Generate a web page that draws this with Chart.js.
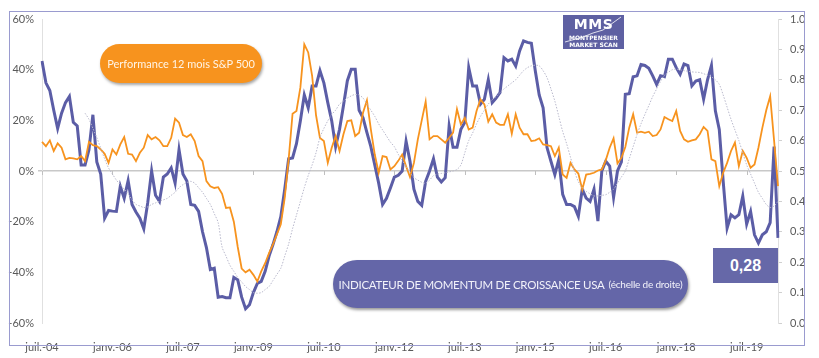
<!DOCTYPE html>
<html>
<head>
<meta charset="utf-8">
<script src="https://cdn.jsdelivr.net/npm/chart.js@4.4.1/dist/chart.umd.min.js"></script>
<style>
  html,body{margin:0;padding:0;background:#fff;}
  #wrap{position:relative;width:819px;height:358px;overflow:hidden;}
  #frame{position:absolute;left:9px;top:11px;width:796px;height:335px;border:1.5px solid #9a9bcf;box-sizing:border-box;pointer-events:none;}
  canvas{position:absolute;left:0;top:0;}
  .pill{position:absolute;display:flex;align-items:center;justify-content:center;color:#fff;font-family:Lato,"Open Sans",sans-serif;white-space:nowrap;}
  #pillO{left:100px;top:44px;width:162px;height:39px;border-radius:20px;background:#f7931e;font-size:11px;box-shadow:1px 2px 3px rgba(0,0,0,0.35);color:#fff4e6;}
  #pillB{left:333px;top:260px;width:355px;height:48px;border-radius:24px;background:#6466a8;font-size:11.5px;box-shadow:1px 2px 3px rgba(0,0,0,0.4);color:#f2f2fa;letter-spacing:-0.3px;}
  #pillB small{font-size:10px;margin-left:4px;letter-spacing:-0.2px;}
  #logo{position:absolute;left:563px;top:15px;width:61px;height:34px;background:#5e60a2;color:#fff;font-family:"DejaVu Sans",sans-serif;text-align:center;}
  #logo .big{position:absolute;left:0;right:0;top:1px;font-size:14px;font-weight:bold;letter-spacing:0.5px;}
  #logo .s1{position:absolute;left:0;right:0;top:19px;font-size:6px;font-weight:bold;}
  #logo .s2{position:absolute;left:0;right:0;top:26px;font-size:6px;font-weight:bold;}
  #logo svg{position:absolute;left:0;top:0;}
  #val{position:absolute;left:713px;top:248px;width:65px;height:35px;background:#6668a8;color:#fff;font-family:"Liberation Sans",Arial,sans-serif;font-weight:bold;font-size:16px;display:flex;align-items:center;justify-content:center;}
</style>
</head>
<body>
<div id="wrap">
  <canvas id="c" width="819" height="358"></canvas>
  <div id="frame"></div>
  <div class="pill" id="pillO">Performance 12 mois S&amp;P 500</div>
  <div class="pill" id="pillB">INDICATEUR DE MOMENTUM DE CROISSANCE USA<small>(échelle de droite)</small></div>
  <div id="logo">
    <svg width="61" height="34"><polyline points="2,27 20,22 30,18 40,15 58,2" fill="none" stroke="#ffffff" stroke-width="0.8"/></svg>
    <div class="big">MMS</div>
    <div class="s1">MONTPENSIER</div>
    <div class="s2">MARKET SCAN</div>
  </div>
  <div id="val">0,28</div>
</div>
<script>
// ---- DATA ----
const MONTHS = ["janv.","févr.","mars","avr.","mai","juin","juil.","août","sept.","oct.","nov.","déc."];
const START_YEAR = 2004, START_MONTH = 6; // juil.-04

// Performance 12 mois S&P 500 (%), left axis
const sp500 = [
 11.5, 9.8, 12.1, 7.9, 10.9, 9.2, 4.6, 5.2, 5.0, 4.6, 5.9, 3.9,
 11.5, 10.2, 9.8, 8.5, 6.8, 3.2, 8.5, 6.5, 10.5, 13.4, 6.8, 6.5,
 3.9, 7.2, 9.2, 14.2, 12.5, 13.4, 12.1, 9.8, 9.8, 13.1, 20.7, 19.1,
 14.2, 13.4, 14.5, 11.8, 5.9, 3.9, -4.0, -6.0, -6.7, -6.4, -9.0, -14.6,
 -14.4, -20.0, -30.0, -38.5, -40.0, -39.0, -41.0, -43.6, -39.6, -36.4, -32.4, -29.0,
 -25.0, -21.0, -10.6, 4.6, 22.6, 23.7, 33.0, 50.0, 46.8, 37.6, 22.0, 13.0,
 11.8, 3.2, 9.2, 13.8, 7.9, 14.5, 19.7, 20.0, 13.8, 15.1, 23.0, 27.9,
 16.4, 6.5, -0.7, 5.9, 5.5, 0.6, 1.9, 4.0, 6.5, 1.9, -2.4, 3.2,
 12.5, 20.0, 27.4, 12.5, 13.8, 13.8, 12.5, 11.2, 13.1, 15.1, 24.4, 18.4,
 21.0, 16.4, 17.1, 23.7, 28.3, 26.3, 19.5, 22.4, 19.1, 18.2, 18.2, 22.4,
 14.7, 22.4, 17.1, 14.5, 14.5, 11.8, 12.1, 12.9, 10.5, 10.2, 9.8, 5.9,
 9.2, -1.4, -2.7, 3.2, 0.6, -1.0, -7.3, -1.4, -1.1, -0.7, 0.2, 0.6,
 4.2, 9.2, 12.9, 3.0, 5.2, 9.5, 17.1, 22.4, 15.1, 15.5, 15.1, 15.5,
 13.8, 14.2, 16.4, 21.3, 20.4, 19.7, 23.7, 15.8, 12.5, 11.5, 12.1, 12.5,
 14.5, 17.4, 15.8, 4.6, 3.9, -6.0, -0.7, 3.2, 7.9, 11.2, 1.9, 7.9,
 5.2, 1.3, 2.6, 9.2, 17.0, 24.0, 29.5, 12.0, -6.0
];

// Indicateur de momentum de croissance USA (right axis, 0..1)
const momentum = [
 0.862, 0.79, 0.765, 0.70, 0.64, 0.69, 0.725, 0.745, 0.66, 0.648, 0.52, 0.52,
 0.57, 0.685, 0.53, 0.49, 0.345, 0.37, 0.368, 0.367, 0.45, 0.41, 0.468, 0.39,
 0.365, 0.345, 0.31, 0.395, 0.50, 0.42, 0.40, 0.48, 0.49, 0.51, 0.46, 0.57,
 0.49, 0.467, 0.39, 0.387, 0.367, 0.30, 0.248, 0.176, 0.18, 0.085, 0.087, 0.083,
 0.083, 0.15, 0.142, 0.085, 0.047, 0.06, 0.10, 0.13, 0.137, 0.17, 0.22, 0.258,
 0.30, 0.35, 0.44, 0.54, 0.543, 0.59, 0.665, 0.75, 0.708, 0.78, 0.78, 0.83,
 0.79, 0.725, 0.665, 0.58, 0.637, 0.715, 0.797, 0.835, 0.835, 0.70, 0.675, 0.626,
 0.58, 0.52, 0.46, 0.39, 0.41, 0.444, 0.48, 0.486, 0.50, 0.598, 0.532, 0.44,
 0.40, 0.387, 0.466, 0.50, 0.54, 0.48, 0.464, 0.478, 0.648, 0.578, 0.578, 0.637,
 0.66, 0.84, 0.78, 0.78, 0.72, 0.736, 0.80, 0.725, 0.74, 0.758, 0.873, 0.862,
 0.868, 0.845, 0.895, 0.928, 0.923, 0.92, 0.83, 0.75, 0.708, 0.577, 0.532, 0.488,
 0.538, 0.423, 0.39, 0.39, 0.383, 0.351, 0.44, 0.411, 0.40, 0.44, 0.335, 0.50,
 0.532, 0.516, 0.413, 0.50, 0.53, 0.752, 0.754, 0.81, 0.813, 0.85, 0.847, 0.838,
 0.813, 0.785, 0.813, 0.81, 0.868, 0.868, 0.84, 0.818, 0.852, 0.847, 0.78, 0.796,
 0.80, 0.736, 0.80, 0.847, 0.698, 0.637, 0.466, 0.312, 0.356, 0.346, 0.356, 0.417,
 0.325, 0.367, 0.29, 0.263, 0.29, 0.30, 0.33, 0.58, 0.28
];

// Smoothed momentum (grey dotted, right axis)
const smoothed = [
 null, null, null, null, null, null, null, null, null, null, null, 0.69,
 0.67, 0.64, 0.61, 0.575, 0.54, 0.51, 0.49, 0.47, 0.455, 0.44, 0.425, 0.405,
 0.39, 0.385, 0.38, 0.382, 0.39, 0.395, 0.40, 0.405, 0.41, 0.42, 0.43, 0.445,
 0.455, 0.462, 0.466, 0.46, 0.445, 0.43, 0.41, 0.39, 0.36, 0.33, 0.25, 0.22,
 0.19, 0.17, 0.15, 0.135, 0.12, 0.11, 0.10, 0.098, 0.10, 0.11, 0.12, 0.14,
 0.16, 0.18, 0.22, 0.26, 0.31, 0.355, 0.40, 0.445, 0.485, 0.52, 0.56, 0.61,
 0.64, 0.665, 0.686, 0.70, 0.72, 0.73, 0.74, 0.747, 0.752, 0.75, 0.74, 0.72,
 0.70, 0.68, 0.655, 0.635, 0.615, 0.595, 0.58, 0.555, 0.535, 0.515, 0.495, 0.478,
 0.47, 0.463, 0.46, 0.47, 0.485, 0.49, 0.492, 0.494, 0.497, 0.50, 0.505, 0.52,
 0.56, 0.60, 0.625, 0.655, 0.68, 0.70, 0.72, 0.735, 0.745, 0.758, 0.77, 0.78,
 0.79, 0.80, 0.815, 0.83, 0.84, 0.846, 0.848, 0.846, 0.83, 0.807, 0.77, 0.73,
 0.68, 0.63, 0.59, 0.545, 0.50, 0.465, 0.445, 0.433, 0.425, 0.418, 0.418, 0.42,
 0.422, 0.43, 0.44, 0.46, 0.48, 0.50, 0.54, 0.58, 0.62, 0.655, 0.686, 0.715,
 0.745, 0.77, 0.795, 0.815, 0.825, 0.833, 0.835, 0.833, 0.83, 0.828, 0.826, 0.825,
 0.824, 0.82, 0.815, 0.81, 0.80, 0.785, 0.75, 0.71, 0.67, 0.635, 0.60, 0.56,
 0.52, 0.49, 0.46, 0.43, 0.41, 0.39, 0.38, 0.385, 0.40
];

const TICK_EVERY = 18; // x labels every 18 months
const LEFT_TICKS = [-60, -40, -20, 0, 20, 40, 60];
const RIGHT_TICKS = [0, 0.1, 0.2, 0.3, 0.4, 0.5, 0.6, 0.7, 0.8, 0.9, 1.0];

// category labels
const labels = momentum.map((_, i) => {
  const t = START_MONTH + i;
  const y = START_YEAR + Math.floor(t / 12);
  return MONTHS[t % 12] + "-" + String(y % 100).padStart(2, "0");
});

const AXIS_FONT = {family: "Lato, 'Open Sans', sans-serif", size: 11};
const AXIS_COLOR = "#595959";

const xTickMarks = {
  id: "xTickMarks",
  beforeDatasetsDraw(chart) {
    const x = chart.scales.x, yl = chart.scales.yL;
    const y0 = yl.getPixelForValue(0);
    const ctx = chart.ctx;
    ctx.save();
    ctx.strokeStyle = "#bfbfbf";
    ctx.lineWidth = 1;
    for (let i = 0; i < labels.length; i += TICK_EVERY) {
      const px = Math.round(x.getPixelForValue(i)) + 0.5;
      ctx.beginPath(); ctx.moveTo(px, y0); ctx.lineTo(px, y0 + 4); ctx.stroke();
    }
    ctx.restore();
  }
};

new Chart(document.getElementById("c"), {
  type: "line",
  data: {
    labels,
    datasets: [
      {label: "Lissé", data: smoothed, yAxisID: "yR", borderColor: "#b9b9cc", borderWidth: 1, borderDash: [1.5, 1.5], pointRadius: 0, tension: 0.3, spanGaps: false},
      {label: "Performance 12 mois S&P 500", data: sp500, yAxisID: "yL", borderColor: "#f7931e", borderWidth: 1.8, pointRadius: 0, tension: 0},
      {label: "Indicateur de momentum de croissance USA", data: momentum, yAxisID: "yR", borderColor: "#5b5da6", borderWidth: 3, pointRadius: 0, tension: 0}
    ]
  },
  options: {
    responsive: false,
    devicePixelRatio: 1,
    animation: false,
    layout: {padding: {top: 19, left: 0, right: 0, bottom: 0}},
    plugins: {legend: {display: false}, tooltip: {enabled: false}},
    scales: {
      x: {
        type: "category",
        offset: false,
        grid: {display: false},
        border: {display: false},
        ticks: {
          autoSkip: false, maxRotation: 0, minRotation: 0, padding: 10,
          font: AXIS_FONT, color: AXIS_COLOR,
          callback: (v, i) => (i % TICK_EVERY === 0 ? labels[i] : "")
        },
        afterFit: s => { s.height = 35; }
      },
      yL: {
        position: "left",
        min: -60, max: 60,
        afterBuildTicks: s => { s.ticks = LEFT_TICKS.map(v => ({value: v})); },
        ticks: {font: AXIS_FONT, color: AXIS_COLOR, padding: 4, callback: v => v + "%"},
        grid: {
          drawOnChartArea: true, drawTicks: true, tickLength: 4,
          color: c => (c.tick && c.tick.value === 0 ? "#c8c8c8" : "rgba(0,0,0,0)"),
          lineWidth: c => (c.tick && c.tick.value === 0 ? 1.5 : 1)
        },
        border: {display: true, color: "#e0e0e0"},
        afterFit: s => { s.width = 42; }
      },
      yR: {
        position: "right",
        min: 0, max: 1,
        afterBuildTicks: s => { s.ticks = RIGHT_TICKS.map(v => ({value: v})); },
        ticks: {font: AXIS_FONT, color: AXIS_COLOR, padding: 8, callback: v => Number(v).toFixed(1)},
        grid: {drawOnChartArea: false, drawTicks: true, tickLength: 4, color: "#d0d0d0"},
        border: {display: true, color: "#e0e0e0"},
        afterFit: s => { s.width = 41; }
      }
    }
  },
  plugins: [xTickMarks]
});
</script>
</body>
</html>
